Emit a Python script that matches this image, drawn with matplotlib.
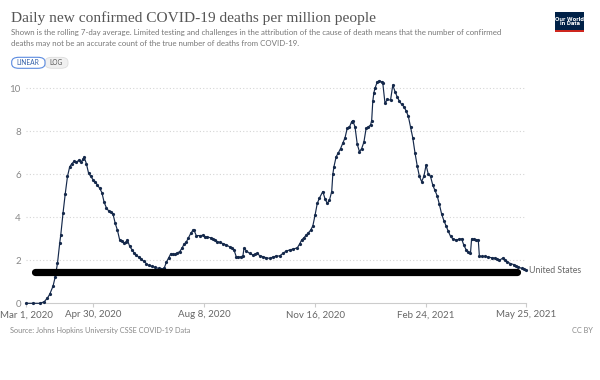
import numpy as np
import matplotlib
matplotlib.use("Agg")
import matplotlib.pyplot as plt
from matplotlib.patches import Rectangle, FancyBboxPatch

# days since Mar 1, 2020 and 7-day avg deaths per million
day_offsets = [0, 6, 12, 16, 19, 21, 24, 26, 28, 30, 31, 33, 35, 37, 39, 41, 43, 45, 47, 49,
               51, 52, 54, 56, 58, 60, 62, 64, 66, 68, 70, 72, 74, 76, 78, 80, 82, 84, 86, 88,
               90, 91, 93, 95, 97, 99, 101, 103, 106, 108, 110, 113, 116, 119, 121, 124, 126, 128, 130, 132,
               134, 136, 138, 140, 142, 144, 146, 148, 150, 151, 153, 156, 159, 161, 163, 166, 168, 170, 172, 174,
               177, 180, 183, 185, 187, 189, 191, 193, 195, 196, 198, 201, 204, 206, 208, 210, 213, 216, 219, 222,
               225, 228, 231, 234, 237, 240, 244, 246, 248, 250, 252, 254, 256, 258, 260, 262, 264, 267, 269, 271,
               273, 275, 276, 277, 279, 281, 283, 285, 287, 289, 291, 293, 294, 296, 298, 300, 302, 304, 306, 308,
               310, 311, 312, 313, 314, 316, 318, 320, 321, 323, 325, 328, 330, 332, 334, 336, 338, 340, 342, 344,
               346, 348, 350, 352, 354, 356, 358, 360, 362, 364, 366, 368, 370, 372, 374, 376, 378, 380, 382, 384,
               387, 390, 392, 394, 396, 398, 400, 401, 403, 405, 407, 408, 410, 413, 416, 419, 422, 424, 426, 429,
               431, 433, 436, 439, 441, 443, 446, 448, 450]
deaths_pm = [0, 0, 0, 0.07, 0.25, 0.42, 0.8, 1.24, 1.86, 2.8, 3.2, 4.2, 5.1, 5.9, 6.35, 6.5, 6.6, 6.55, 6.65, 6.55,
             6.7, 6.8, 6.5, 6.05, 5.9, 5.75, 5.65, 5.5, 5.35, 5.15, 4.7, 4.45, 4.3, 4.25, 4.15, 3.72, 3.4, 2.95, 2.9, 2.8,
             2.85, 2.95, 2.65, 2.5, 2.35, 2.25, 2.15, 2.05, 1.95, 1.85, 1.76, 1.72, 1.67, 1.62, 1.59, 1.62, 1.9, 2.1, 2.3, 2.28,
             2.27, 2.35, 2.4, 2.55, 2.75, 2.85, 3.05, 3.25, 3.4, 3.4, 3.15, 3.15, 3.16, 3.1, 3.08, 3.05, 3.0, 2.93, 2.87, 2.83,
             2.78, 2.72, 2.63, 2.57, 2.48, 2.17, 2.14, 2.16, 2.2, 2.56, 2.45, 2.32, 2.25, 2.28, 2.32, 2.22, 2.17, 2.12, 2.09, 2.15,
             2.2, 2.2, 2.32, 2.43, 2.48, 2.52, 2.58, 2.75, 2.95, 3.05, 3.17, 3.28, 3.4, 3.6, 4.1, 4.65, 4.9, 5.2, 4.85, 4.65,
             4.8, 5.2, 6.0, 6.35, 6.82, 7.0, 7.2, 7.45, 7.7, 8.15, 8.2, 8.45, 8.5, 8.2, 7.4, 7.05, 7.2, 7.5, 8.14, 8.2,
             8.3, 8.5, 9.4, 9.8, 10.0, 10.3, 10.35, 10.3, 10.24, 9.3, 9.48, 9.45, 10.15, 9.85, 9.6, 9.4, 9.25, 9.15, 8.95, 8.7,
             8.2, 7.7, 7.0, 6.4, 5.9, 5.66, 5.9, 6.43, 6.0, 5.9, 5.5, 5.25, 5.0, 4.6, 4.15, 3.85, 3.6, 3.35, 3.12, 3.0,
             2.95, 2.98, 3.0, 2.7, 2.5, 2.4, 2.33, 3.0, 2.97, 2.95, 2.95, 2.2, 2.18, 2.18, 2.15, 2.12, 2.1, 2.05, 2.0, 2.1,
             2.0, 1.93, 1.85, 1.8, 1.74, 1.7, 1.62, 1.58, 1.53]

# thick black bar drawn on the chart
bar_start, bar_end, bar_level = 8, 442, 1.47

tick_days = [0, 60, 160, 260, 360, 450]
tick_labels = ["Mar 1, 2020", "Apr 30, 2020", "Aug 8, 2020", "Nov 16, 2020", "Feb 24, 2021", "May 25, 2021"]
y_ticks = [0, 2, 4, 6, 8, 10]

start = np.datetime64("2020-03-01")
dates = start + np.array(day_offsets).astype("timedelta64[D]")

W, H = 600, 380
fig = plt.figure(figsize=(6, 3.8), dpi=100)


def fx(x):
    return x / W


def fy(y):
    return 1 - y / H


line_col = "#15294b"
grey = "#666666"

x0, x1 = 26.4, 526
y0px, per_unit = 303.3, 21.5
ymax = 10.5
ax = fig.add_axes([fx(x0), fy(y0px), (x1 - x0) / W, ymax * per_unit / H])

ax.plot(dates, deaths_pm, color=line_col, lw=0.85, marker="o", ms=1.3, clip_on=False, zorder=3)
ax.plot([start + np.timedelta64(bar_start, "D"), start + np.timedelta64(bar_end, "D")],
        [bar_level, bar_level], color="black", lw=5.2, solid_capstyle="round", zorder=4)

ax.set_xlim(start, start + np.timedelta64(450, "D"))
ax.set_ylim(0, ymax)
ax.set_xticks(start + np.array(tick_days).astype("timedelta64[D]"))
ax.set_xticklabels(tick_labels, fontfamily="Lato", fontsize=7.0, color=grey)
ax.set_yticks(y_ticks)
ax.set_yticklabels([str(v) for v in y_ticks], fontfamily="Lato", fontsize=7.0, color="#888888")
ax.tick_params(axis="y", length=0, pad=4)
ax.tick_params(axis="x", length=3, color="#cccccc", pad=2)
for s in ["top", "right", "left"]:
    ax.spines[s].set_visible(False)
ax.spines["bottom"].set_color("#cccccc")
ax.spines["bottom"].set_linewidth(0.8)
for v in y_ticks[1:]:
    ax.axhline(v, color="#d5d5d5", lw=0.8, ls=(0, (1, 2)), zorder=1)
ax.patch.set_alpha(0)

ax.annotate("United States", (dates[-1], deaths_pm[-1]), xytext=(2.5, 0), textcoords="offset points",
            va="center", ha="left", fontfamily="Lato", fontsize=6.3, color=grey, annotation_clip=False)

# header
fig.text(fx(11), fy(18), "Daily new confirmed COVID-19 deaths per million people",
         fontfamily="Liberation Serif", fontsize=11.1, color="#555555", va="center")
fig.text(fx(11), fy(33), "Shown is the rolling 7-day average. Limited testing and challenges in the attribution "
         "of the cause of death means that the number of confirmed", fontfamily="Lato", fontsize=5.7,
         color="#777777", va="center")
fig.text(fx(11), fy(43.5), "deaths may not be an accurate count of the true number of deaths from COVID-19.",
         fontfamily="Lato", fontsize=5.7, color="#777777", va="center")

# linear / log buttons
fig.patches.append(FancyBboxPatch((fx(45), fy(68.3)), fx(68) - fx(45), (68.3 - 57.3) / H,
                                  boxstyle="round,pad=0,rounding_size=0.012", transform=fig.transFigure,
                                  fc="#f0f0f0", ec="#dddddd", lw=0.6))
fig.patches.append(FancyBboxPatch((fx(11.7), fy(68.3)), fx(45) - fx(11.7), (68.3 - 57.3) / H,
                                  boxstyle="round,pad=0,rounding_size=0.012", transform=fig.transFigure,
                                  fc="white", ec="#5b8be0", lw=0.8))
fig.text(fx(28.3), fy(62.8), "LINEAR", fontfamily="Lato", fontsize=4.8, color="#3360a8", ha="center", va="center")
fig.text(fx(56.5), fy(62.8), "LOG", fontfamily="Lato", fontsize=4.8, color="#555555", ha="center", va="center")

# logo
fig.patches.append(Rectangle((fx(555), fy(32)), fx(584) - fx(555), 20 / H, transform=fig.transFigure,
                             fc="#002147", ec="none"))
fig.patches.append(Rectangle((fx(555), fy(32)), fx(584) - fx(555), 1.6 / H, transform=fig.transFigure,
                             fc="#ce261e", ec="none"))
fig.text(fx(569.5), fy(21.5), "Our World\nin Data", fontfamily="Roboto", fontsize=4.6, color="white",
         ha="center", va="center", linespacing=0.95, fontweight="bold")

# footer
fig.text(fx(10), fy(330.5), "Source: Johns Hopkins University CSSE COVID-19 Data", fontfamily="Lato",
         fontsize=5.3, color="#888888", va="center")
fig.text(fx(593), fy(330.5), "CC BY", fontfamily="Lato", fontsize=5.3, color="#888888", va="center", ha="right")

fig.savefig("out.png", dpi=100)
